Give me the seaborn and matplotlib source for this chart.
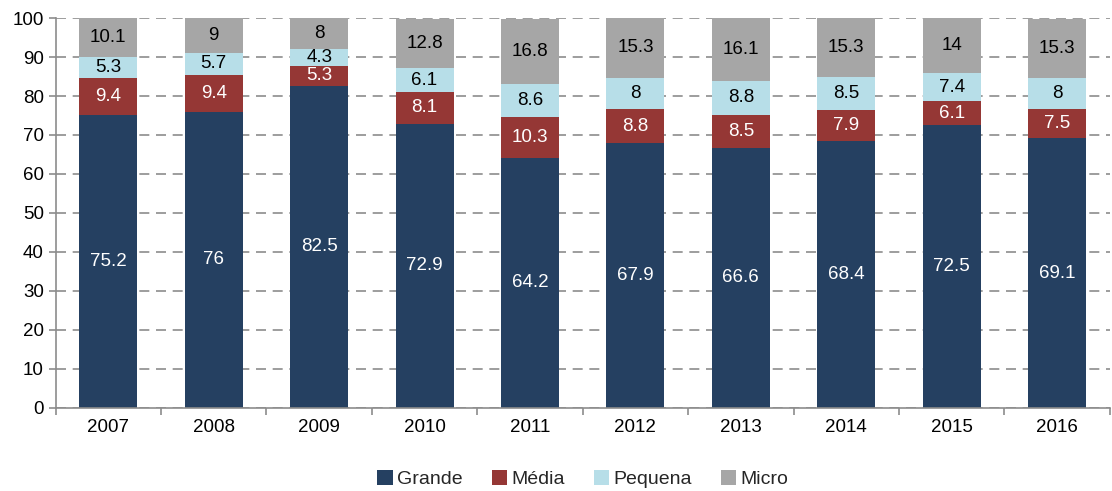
import numpy as np
import pandas as pd
import matplotlib
matplotlib.use('Agg')
import matplotlib.pyplot as plt
import seaborn as sns

anos = ['2007', '2008', '2009', '2010', '2011', '2012', '2013', '2014', '2015', '2016']
grande = [75.2, 76, 82.5, 72.9, 64.2, 67.9, 66.6, 68.4, 72.5, 69.1]
media = [9.4, 9.4, 5.3, 8.1, 10.3, 8.8, 8.5, 7.9, 6.1, 7.5]
pequena = [5.3, 5.7, 4.3, 6.1, 8.6, 8, 8.8, 8.5, 7.4, 8]
micro = [10.1, 9, 8, 12.8, 16.8, 15.3, 16.1, 15.3, 14, 15.3]

series = ['Grande', 'Média', 'Pequena', 'Micro']
cores = ['#254061', '#953735', '#B7DEE8', '#A6A6A6']
cor_texto = ['white', 'white', 'black', 'black']

sns.set_style('white')
plt.rcParams['font.family'] = ['Liberation Sans', 'DejaVu Sans']

fig, ax = plt.subplots(figsize=(11.12, 4.91), dpi=100)
fig.subplots_adjust(left=0.05, right=0.998, top=0.963, bottom=0.17)

ax.set_axisbelow(True)
ax.yaxis.grid(True, linestyle=(0, (6, 4)), color='#8c8c8c', linewidth=1.2)

df = pd.DataFrame({'ano': anos, 'Grande': grande, 'Média': media,
                   'Pequena': pequena, 'Micro': micro})

base = np.zeros(len(anos))
for nome, cor, ct in zip(series, cores, cor_texto):
    vals = df[nome].values
    sns.barplot(x='ano', y=nome, data=df, color=cor, bottom=base, width=0.55,
                ax=ax, label=nome, saturation=1, linewidth=0)
    for i, v in enumerate(vals):
        txt = ('%g' % v)
        ax.text(i, base[i] + v / 2, txt, ha='center', va='center',
                color=ct, fontsize=13.5)
    base = base + vals

ax.set_ylim(0, 100)
ax.set_xlim(-0.5, len(anos) - 0.5)
ax.set_yticks(range(0, 101, 10))
ax.set_xlabel('')
ax.set_ylabel('')
ax.tick_params(axis='both', labelsize=13.5, colors='black')
ax.tick_params(axis='y', which='major', left=True, length=5, color='#8c8c8c', width=1.2)
ax.tick_params(axis='x', which='major', length=0, pad=8)
ax.set_xticks(np.arange(-0.5, len(anos), 1), minor=True)
ax.tick_params(axis='x', which='minor', bottom=True, length=5, color='#8c8c8c', width=1.2)

for s in ['top', 'right']:
    ax.spines[s].set_visible(False)
for s in ['left', 'bottom']:
    ax.spines[s].set_color('#8c8c8c')
    ax.spines[s].set_linewidth(1.2)

ax.legend(loc='upper center', bbox_to_anchor=(0.5, -0.115), ncol=4, frameon=False,
          fontsize=14, handlelength=0.8, handleheight=0.8, handletextpad=0.2,
          columnspacing=1.5)

fig.savefig('out.png', dpi=100)
